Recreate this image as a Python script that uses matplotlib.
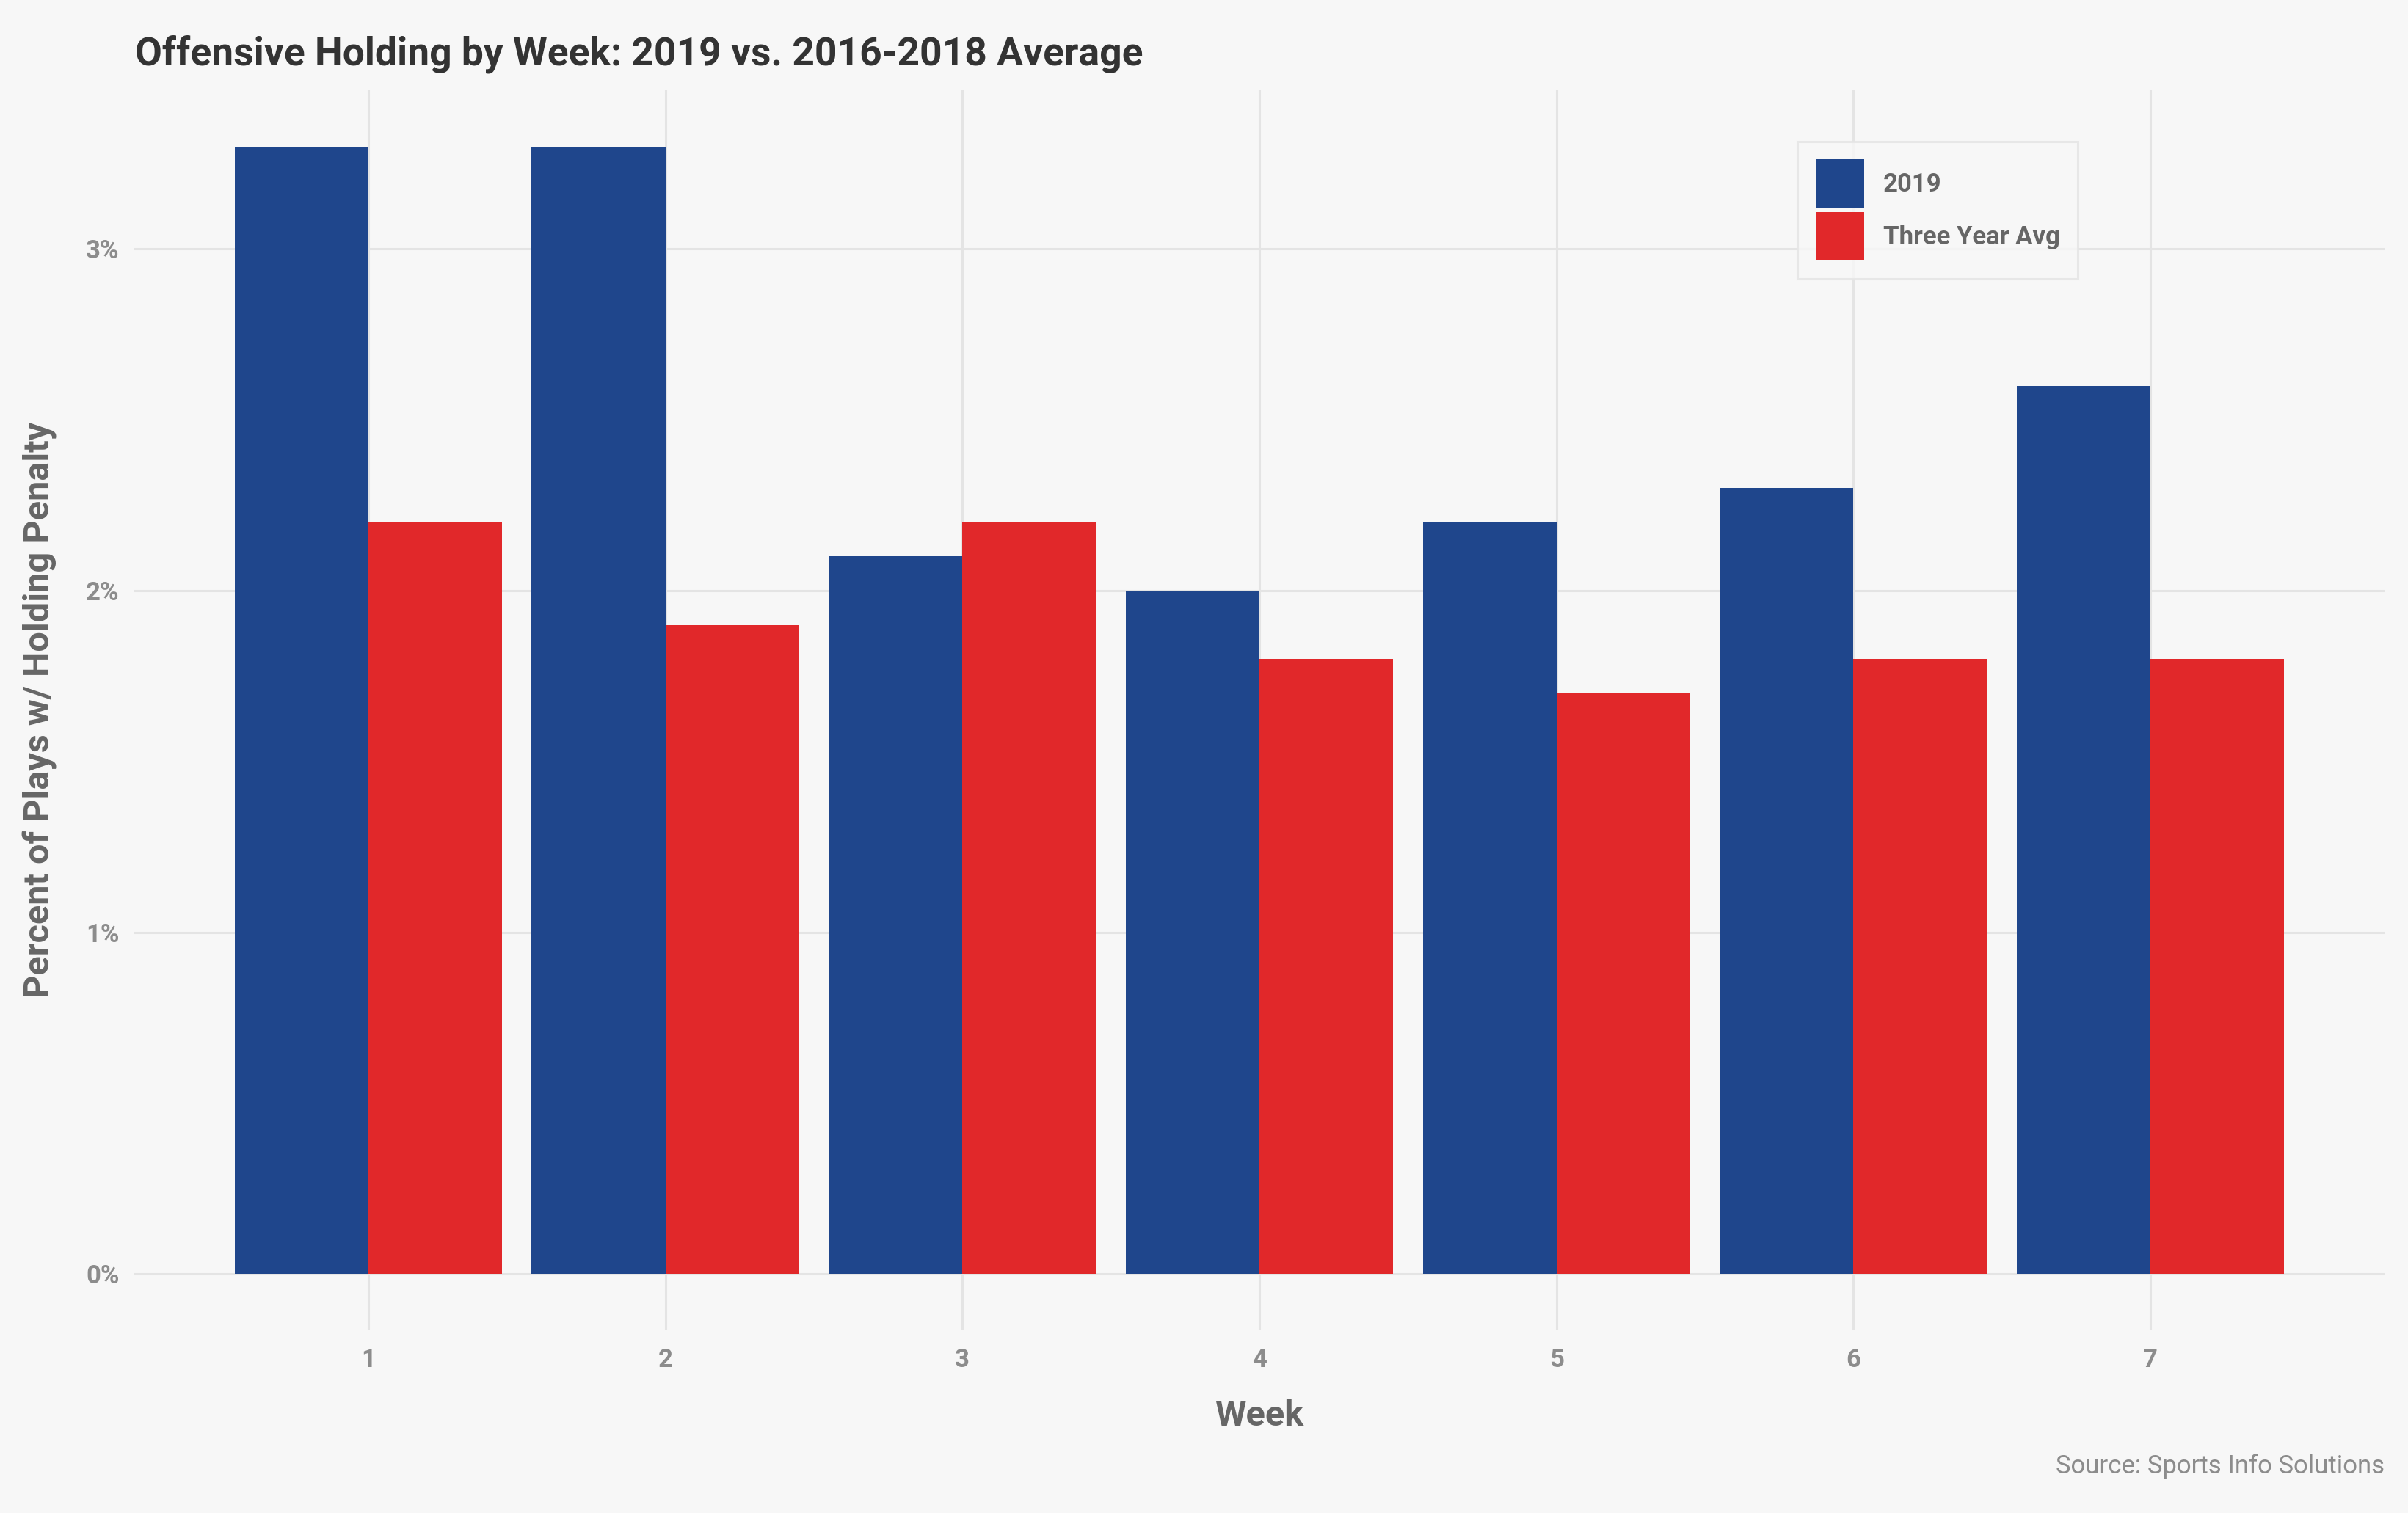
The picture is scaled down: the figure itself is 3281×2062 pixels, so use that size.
import numpy as np
import matplotlib
matplotlib.use("Agg")
import matplotlib.pyplot as plt

# values (percent of plays)
weeks = [1, 2, 3, 4, 5, 6, 7]
rate_2019 = [3.3, 3.3, 2.1, 2.0, 2.2, 2.3, 2.6]
rate_avg = [2.2, 1.9, 2.2, 1.8, 1.7, 1.8, 1.8]
series_labels = ["2019", "Three Year Avg"]
y_ticks = [0, 1, 2, 3]
y_tick_labels = ["0%", "1%", "2%", "3%"]

BG = "#f7f7f7"
GRID = "#e4e4e4"
BLUE = "#1f468c"
RED = "#e1282a"
FONT = ["DejaVu Sans Condensed", "Roboto", "DejaVu Sans"]

plt.rcParams["font.family"] = FONT

W, H = 3281, 2062
fig = plt.figure(figsize=(W / 100, H / 100), dpi=100, facecolor=BG)
ax = fig.add_axes([182 / W, 1 - 1813 / H, (3250 - 182) / W, (1813 - 123) / H])
ax.set_facecolor(BG)

x = np.array(weeks, dtype=float)
bw = 0.45
ax.bar(x - bw / 2, rate_2019, width=bw, color=BLUE, label=series_labels[0], zorder=2)
ax.bar(x + bw / 2, rate_avg, width=bw, color=RED, label=series_labels[1], zorder=2)

ax.set_xlim(0.21, 7.79)
ax.set_ylim(-0.165, 3.465)
ax.set_xticks(weeks)
ax.set_xticklabels([str(w) for w in weeks])
ax.set_yticks(y_ticks)
ax.set_yticklabels(y_tick_labels)

ax.grid(True, color=GRID, linewidth=2.2, zorder=0)
ax.set_axisbelow(True)
for s in ax.spines.values():
    s.set_visible(False)

ax.tick_params(axis="both", length=0, labelsize=25, labelcolor="#8c8c8c")
ax.tick_params(axis="y", pad=14)
ax.tick_params(axis="x", pad=17)
for lab in ax.get_xticklabels() + ax.get_yticklabels():
    lab.set_fontweight("bold")

ax.set_xlabel("Week", fontsize=35, fontweight="bold", color="#666666", va="center")
ax.xaxis.set_label_coords(0.5, -0.0692)
ax.set_ylabel("Percent of Plays w/ Holding Penalty", fontsize=35, fontweight="bold",
              color="#666666", va="center")
ax.yaxis.set_label_coords(-0.0417, 0.5)

# legend keys are ~66 px squares stacked with a small gap
leg = ax.legend(loc="upper left", bbox_to_anchor=(0.739, 0.9586), borderaxespad=0,
                frameon=True, fancybox=False, facecolor=BG, edgecolor=GRID,
                prop={"size": 25, "weight": "bold", "family": FONT},
                handlelength=1.9, handleheight=2.55, labelspacing=0.17,
                handletextpad=0.75, borderpad=0.7)
leg.get_frame().set_linewidth(2.2)
for t in leg.get_texts():
    t.set_color("#666666")

fig.text(184 / W, 1 - 88 / H, "Offensive Holding by Week: 2019 vs. 2016-2018 Average",
         fontsize=38.4, fontweight="bold", color="#333333", ha="left", va="baseline")
fig.text(3249 / W, 1 - 2008 / H, "Source: Sports Info Solutions",
         fontsize=25, color="#8c8c8c", ha="right", va="baseline")

fig.savefig("out.png", dpi=100, facecolor=BG)
